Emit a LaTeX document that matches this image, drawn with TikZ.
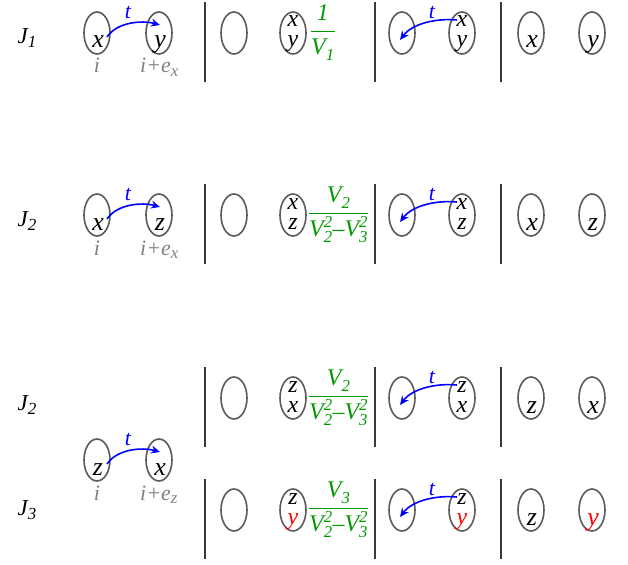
\documentclass[tikz,border=0pt]{standalone}
\usepackage{amsmath}
\usepackage{fontspec}
\setmainfont{Liberation Serif}
\usetikzlibrary{arrows.meta, calc, positioning, shapes.geometric}
\definecolor{Ring} {HTML}{5C5C5C}
\definecolor{Bar}  {HTML}{3A3A3A}
\definecolor{Site} {HTML}{808080}
\definecolor{Hop}  {HTML}{0000FF}
\definecolor{Wgt}  {HTML}{009A00}
\definecolor{Flip} {HTML}{FF0000}
\newcommand\idx[1]{\raisebox{-0.35ex}{\fontsize{17}{18}\selectfont #1}}
\newcommand\vv[2]{\textit{V}_{\textit{#1}}^{\textit{#2}}}
\newcommand\dash{\mathord{\textit{--}}}
\tikzset{
  orb/.style={
    ellipse, draw=Ring, line width=1.6bp,
    minimum width=26bp, minimum height=42bp, inner sep=0pt,
  },
  ltr/.style={
    anchor=base, inner sep=0pt,
    font=\fontsize{26}{28}\selectfont\itshape,
  },
  % stacked pair inside one ellipse
  stk/.style={
    anchor=base, inner sep=0pt,
    font=\fontsize{24}{26}\selectfont\itshape,
  },
  tag/.style={
    inner sep=0pt, font=\fontsize{23}{26}\selectfont\itshape,
  },
  site/.style={
    anchor=base, inner sep=0pt, text=Site,
    font=\fontsize{22}{24}\selectfont\itshape,
  },
  wgt/.style={
    inner sep=1bp, text=Wgt, font=\fontsize{24}{26}\selectfont,
  },
  arr/.style={
    -{Stealth[length=9bp,width=8bp,inset=3bp]},
    line width=1.6bp, color=Hop,
  },
  hop/.style={
    inner sep=0pt, text=Hop, font=\fontsize{22}{24}\selectfont\itshape,
  },
  sepl/.style={draw=Bar, line width=1.4bp},
}
\begin{document}
\begin{tikzpicture}[x=1bp,y=-1bp]
\useasboundingbox (0,0) rectangle (628,565);

% separators
\foreach \sx in {205,375,501}
  \foreach \sy in {33,215,398,510}
    \draw[sepl] (\sx,{\sy-31}) -- (\sx,{\sy+49});

% ---- J1
\node[tag] (J1) at (27,38) {J\idx{1}};
\node[orb] (a1) at (97,33) {};
\node[orb] (a2) at (159,33) {};
\node[orb] (a3) at (234,33) {};
\node[orb] (a4) at (293,33) {};
\node[orb] (a5) at (402,33) {};
\node[orb] (a6) at (462,33) {};
\node[orb] (a7) at (531,33) {};
\node[orb] (a8) at (592,33) {};
\node[ltr] at ($(a1)+(1,15)$) {x};
\node[ltr] at ($(a2)+(1,15)$) {y};
\node[stk] at ($(a4)+(0,-6)$) {x};
\node[stk] at ($(a4)+(0,14)$) {y};
\node[stk] at ($(a6)+(0,-6)$) {x};
\node[stk] at ($(a6)+(0,14)$) {y};
\node[ltr] at ($(a7)+(1,15)$) {x};
\node[ltr] at ($(a8)+(1,15)$) {y};
\node[site] (s1) at ($(a1)+(0,40)$) {i};
\node[site, anchor=base west] (s2) at ($(a2)+(-19,40)$) {i+e\idx{x}};
\node[wgt, right=2bp of a4] (w1)
  {$\displaystyle\frac{\textit{1}}{\vv{1}{}}$};
\draw[arr] ($(a1)+(10,4)$) .. controls +(10,-15) and +(-18,-5) .. ($(a2)+(1,-8)$);
\node[hop] at ($(a1)!0.5!(a2)+(0,-21)$) {t};
\draw[arr] ($(a6)+(-5,-13)$) .. controls +(-22,-2) and +(12,-16) .. ($(a5)+(-2,7)$);
\node[hop] at ($(a5)!0.5!(a6)+(0,-21)$) {t};

% ---- J2
\node[tag] (J2) at (27,221) {J\idx{2}};
\node[orb] (b1) at (97,215) {};
\node[orb] (b2) at (159,215) {};
\node[orb] (b3) at (234,215) {};
\node[orb] (b4) at (293,215) {};
\node[orb] (b5) at (402,215) {};
\node[orb] (b6) at (462,215) {};
\node[orb] (b7) at (531,215) {};
\node[orb] (b8) at (592,215) {};
\node[ltr] at ($(b1)+(1,15)$) {x};
\node[ltr] at ($(b2)+(1,15)$) {z};
\node[stk] at ($(b4)+(0,-6)$) {x};
\node[stk] at ($(b4)+(0,14)$) {z};
\node[stk] at ($(b6)+(0,-6)$) {x};
\node[stk] at ($(b6)+(0,14)$) {z};
\node[ltr] at ($(b7)+(1,15)$) {x};
\node[ltr] at ($(b8)+(1,15)$) {z};
\node[site] (s3) at ($(b1)+(0,40)$) {i};
\node[site, anchor=base west] (s4) at ($(b2)+(-19,40)$) {i+e\idx{x}};
\node[wgt, right=0bp of b4] (w2)
  {$\displaystyle\frac{\vv{2}{}}{\vv{2}{2}\dash\vv{3}{2}}$};
\draw[arr] ($(b1)+(10,4)$) .. controls +(10,-15) and +(-18,-5) .. ($(b2)+(1,-8)$);
\node[hop] at ($(b1)!0.5!(b2)+(0,-21)$) {t};
\draw[arr] ($(b6)+(-5,-13)$) .. controls +(-22,-2) and +(12,-16) .. ($(b5)+(-2,7)$);
\node[hop] at ($(b5)!0.5!(b6)+(0,-21)$) {t};

% ---- J2 (second)
\node[tag] (J2b) at (27,405) {J\idx{2}};
\node[orb] (c3) at (234,398) {};
\node[orb] (c4) at (293,398) {};
\node[orb] (c5) at (402,398) {};
\node[orb] (c6) at (462,398) {};
\node[orb] (c7) at (531,398) {};
\node[orb] (c8) at (592,398) {};
\node[stk] at ($(c4)+(0,-6)$) {z};
\node[stk] at ($(c4)+(0,14)$) {x};
\node[stk] at ($(c6)+(0,-6)$) {z};
\node[stk] at ($(c6)+(0,14)$) {x};
\node[ltr] at ($(c7)+(1,15)$) {z};
\node[ltr] at ($(c8)+(1,15)$) {x};
\node[wgt, right=0bp of c4] (w3)
  {$\displaystyle\frac{\vv{2}{}}{\vv{2}{2}\dash\vv{3}{2}}$};
\draw[arr] ($(c6)+(-5,-13)$) .. controls +(-22,-2) and +(12,-16) .. ($(c5)+(-2,7)$);
\node[hop] at ($(c5)!0.5!(c6)+(0,-21)$) {t};

% z-hop pair
\node[orb] (d1) at (97,460) {};
\node[orb] (d2) at (159,460) {};
\node[ltr] at ($(d1)+(1,15)$) {z};
\node[ltr] at ($(d2)+(1,15)$) {x};
\node[site] (s5) at ($(d1)+(0,40)$) {i};
\node[site, anchor=base west] (s6) at ($(d2)+(-19,40)$) {i+e\idx{z}};
\draw[arr] ($(d1)+(10,4)$) .. controls +(10,-15) and +(-18,-5) .. ($(d2)+(1,-8)$);
\node[hop] at ($(d1)!0.5!(d2)+(0,-21)$) {t};

% ---- J3
\node[tag] (J3) at (27,510) {J\idx{3}};
\node[orb] (e3) at (234,510) {};
\node[orb] (e4) at (293,510) {};
\node[orb] (e5) at (402,510) {};
\node[orb] (e6) at (462,510) {};
\node[orb] (e7) at (531,510) {};
\node[orb] (e8) at (592,510) {};
\node[stk] at ($(e4)+(0,-6)$) {z};
\node[stk, text=Flip] at ($(e4)+(0,14)$) {y};
\node[stk] at ($(e6)+(0,-6)$) {z};
\node[stk, text=Flip] at ($(e6)+(0,14)$) {y};
\node[ltr] at ($(e7)+(1,15)$) {z};
\node[ltr, text=Flip] at ($(e8)+(1,15)$) {y};
\node[wgt, right=0bp of e4] (w4)
  {$\displaystyle\frac{\vv{3}{}}{\vv{2}{2}\dash\vv{3}{2}}$};
\draw[arr] ($(e6)+(-5,-13)$) .. controls +(-22,-2) and +(12,-16) .. ($(e5)+(-2,7)$);
\node[hop] at ($(e5)!0.5!(e6)+(0,-21)$) {t};

\end{tikzpicture}
\end{document}
